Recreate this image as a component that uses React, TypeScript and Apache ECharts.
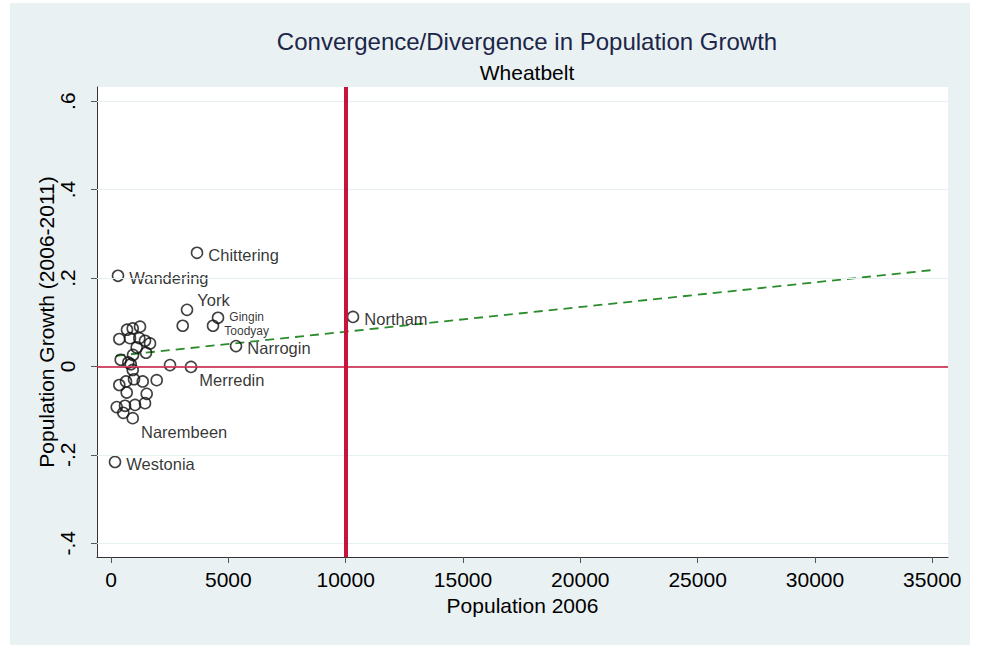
import React, { useEffect, useRef } from 'react';
import * as echarts from 'echarts';

// ---------- DATA ----------
const names = [
  'Chittering', 'Wandering', 'York', 'Gingin', 'Toodyay', 'Narrogin', 'Merredin', 'Northam', 'Westonia', 'Narembeen',
  '', '', '', '', '', '', '', '', '', '', '', '', '', '', '', '', '', '', '', '', '', '', '', '', '', '', '', '', '',
];
const popX = [
  3665, 298, 3239, 4560, 4347, 5327, 3409, 10313, 170, 925,
  3055, 2514, 1947, 925, 1236, 682, 354, 810, 1206, 1449, 1662, 1095, 1492, 938, 413, 737, 840, 925, 354, 639,
  980, 1351, 669, 1521, 243, 597, 1023, 1449, 524,
];
const growthY = [
  0.257, 0.205, 0.128, 0.110, 0.092, 0.046, -0.001, 0.112, -0.216, -0.117,
  0.092, 0.003, -0.031, 0.086, 0.090, 0.083, 0.062, 0.064, 0.064, 0.058, 0.052, 0.043, 0.031, 0.026, 0.015, 0.009,
  0.005, -0.008, -0.042, -0.034, -0.029, -0.034, -0.059, -0.062, -0.092, -0.089, -0.087, -0.083, -0.105,
];
const fitX = [213, 35000];
const fitY = [0.024, 0.218];
const refLineX = 10000;
const refLineY = 0;
const xTickValues = [0, 5000, 10000, 15000, 20000, 25000, 30000, 35000];
const xTickLabels = ['0', '5000', '10000', '15000', '20000', '25000', '30000', '35000'];
const yTickValues = [-0.4, -0.2, 0, 0.2, 0.4, 0.6];
const yTickLabels = ['-.4', '-.2', '0', '.2', '.4', '.6'];

const titleText = 'Convergence/Divergence in Population Growth';
const subtitleText = 'Wheatbelt';
const xTitle = 'Population 2006';
const yTitle = 'Population Growth (2006-2011)';

// ---------- STYLE ----------
const FONT = "'Liberation Sans', Arial, Helvetica, sans-serif";
const labelPlacement: Record<string, { offset?: [number, number]; fontSize?: number }> = {
  York: { offset: [-1, -10] },
  Gingin: { offset: [0, -1], fontSize: 12 },
  Toodyay: { offset: [0, 5], fontSize: 12 },
  Merredin: { offset: [-3, 13] },
  Narembeen: { offset: [-3, 14] },
};

function lookup(values: number[], labels: string[], v: number) {
  let best = 0;
  for (let i = 0; i < values.length; i++) {
    if (Math.abs(values[i] - v) < Math.abs(values[best] - v)) best = i;
  }
  return labels[best];
}

export default function App() {
  const ref = useRef<HTMLDivElement>(null);
  useEffect(() => {
    document.body.style.margin = '0';
    if (!ref.current) return;
    const chart = echarts.init(ref.current, undefined, { renderer: 'svg' });

    const scatterData = popX.map((x, i) => {
      const n = names[i];
      const item: any = { name: n, value: [x, growthY[i]] };
      if (n) {
        const p = labelPlacement[n] || {};
        item.label = {
          show: true,
          position: 'right',
          distance: 5,
          formatter: '{b}',
          offset: p.offset || [0, 2],
          fontSize: p.fontSize || 16.5,
          color: '#000',
          textBorderWidth: 0,
          fontFamily: FONT,
        };
      }
      return item;
    });

    chart.setOption({
      animation: false,
      backgroundColor: 'transparent',
      title: [
        {
          text: titleText,
          left: 512,
          top: 21,
          textAlign: 'center',
          textStyle: { fontSize: 24, fontWeight: 'normal', color: '#1c2648', fontFamily: FONT },
        },
        {
          text: subtitleText,
          left: 512,
          top: 54,
          textAlign: 'center',
          textStyle: { fontSize: 21, fontWeight: 'normal', color: '#000', fontFamily: FONT },
        },
      ],
      grid: {
        left: 87,
        right: 22,
        top: 84,
        bottom: 88,
        show: true,
        backgroundColor: '#ffffff',
        borderWidth: 0,
      },
      xAxis: {
        type: 'value',
        min: -597,
        max: 35669,
        name: xTitle,
        nameLocation: 'middle',
        nameGap: 38,
        nameMoveOverlap: false,
        nameTextStyle: { fontSize: 21, color: '#000', fontFamily: FONT },
        axisLine: { show: true, onZero: false, lineStyle: { color: '#333', width: 1 } },
        axisTick: { show: true, length: 6, customValues: xTickValues, lineStyle: { color: '#555' } },
        axisLabel: {
          customValues: xTickValues,
          margin: 12,
          fontSize: 21,
          color: '#000',
          fontFamily: FONT,
          formatter: (v: number) => lookup(xTickValues, xTickLabels, v),
        },
        splitLine: { show: false },
      },
      yAxis: {
        type: 'value',
        min: -0.431,
        max: 0.632,
        name: yTitle,
        nameLocation: 'middle',
        nameRotate: 90,
        nameGap: 40,
        nameMoveOverlap: false,
        nameTextStyle: { fontSize: 21, color: '#000', fontFamily: FONT },
        axisLine: { show: true, onZero: false, lineStyle: { color: '#333', width: 1 } },
        axisTick: { show: true, length: 6, customValues: yTickValues, lineStyle: { color: '#555' } },
        axisLabel: {
          customValues: yTickValues,
          rotate: 90,
          margin: 19,
          fontSize: 21,
          color: '#000',
          fontFamily: FONT,
          formatter: (v: number) => lookup(yTickValues, yTickLabels, v),
        },
        splitLine: { show: false },
      },
      series: [
        {
          type: 'line',
          data: [],
          silent: true,
          z: 1,
          markLine: {
            silent: true,
            symbol: 'none',
            label: { show: false },
            lineStyle: { color: '#e6eff1', width: 1.2, type: 'solid' },
            data: yTickValues.map((v) => ({ yAxis: v })),
          },
        },
        {
          type: 'line',
          data: [],
          silent: true,
          z: 2,
          markLine: {
            silent: true,
            symbol: 'none',
            label: { show: false },
            data: [
              { xAxis: refLineX, lineStyle: { color: '#c8143c', width: 4, type: 'solid' } },
              { yAxis: refLineY, lineStyle: { color: '#c8143c', width: 1.6, type: 'solid' } },
            ],
          },
        },
        {
          type: 'line',
          data: fitX.map((x, i) => [x, fitY[i]]),
          symbol: 'none',
          silent: true,
          z: 3,
          lineStyle: { color: '#2a8c2a', width: 1.8, type: [9, 6] },
        },
        {
          type: 'scatter',
          data: scatterData,
          symbol: 'circle',
          symbolSize: 11,
          z: 4,
          itemStyle: { color: 'rgba(0,0,0,0)', borderColor: '#111', borderWidth: 1.6 },
        },
      ],
    });
    return () => chart.dispose();
  }, []);

  return (
    <div style={{ width: 991, height: 645, background: '#ffffff', position: 'relative', overflow: 'hidden' }}>
      <div style={{ position: 'absolute', left: 10, top: 3, width: 960, height: 642, background: '#eaf1f3' }}>
        <div ref={ref} style={{ width: 960, height: 642 }} />
      </div>
    </div>
  );
}
